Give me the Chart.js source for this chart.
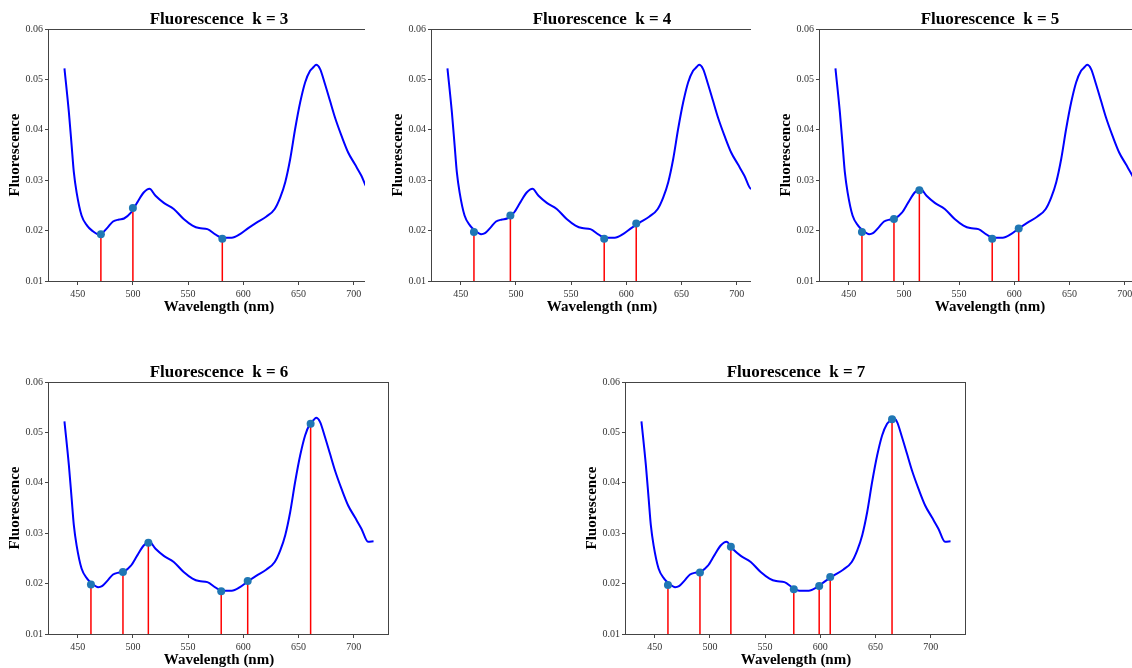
<!DOCTYPE html>
<html>
<head>
<meta charset="utf-8">
<script src="https://cdn.jsdelivr.net/npm/chart.js@4.4.1/dist/chart.umd.min.js"></script>
<style>
  html, body { margin: 0; padding: 0; background: #fff; overflow: hidden; }
  body { width: 1132px; height: 668px; position: relative; }
  .panel { position: absolute; overflow: hidden; }
  .panel canvas { display: block; }
</style>
</head>
<body>
<div class="panel" style="left:0px;top:0px;width:365px;height:321px"><canvas id="c0" width="397" height="321"></canvas></div>
<div class="panel" style="left:383px;top:0px;width:368px;height:321px"><canvas id="c1" width="397" height="321"></canvas></div>
<div class="panel" style="left:771px;top:0px;width:361px;height:321px"><canvas id="c2" width="397" height="321"></canvas></div>
<div class="panel" style="left:0px;top:353px;width:397px;height:315px"><canvas id="c3" width="397" height="321"></canvas></div>
<div class="panel" style="left:577px;top:353px;width:397px;height:315px"><canvas id="c4" width="397" height="321"></canvas></div>
<script>
(function() {
// spectrum (same in every panel)
const wavelength = [438, 442, 444.5, 446.5, 449, 453.5, 458.5, 463, 468.5, 472, 477, 482, 487.5, 492, 498,
    504, 510, 515, 520.5, 528, 537, 546, 554, 560, 567.5, 575, 581, 589.5, 597, 604.5, 612, 621, 628.5,
    633.5, 638, 642.5, 647, 651.5, 656, 660.5, 663.5, 666, 669.5, 674, 678.5, 683, 689, 695, 701, 707, 713, 718];
const fluorescence = [0.0522, 0.0435, 0.0369, 0.0316, 0.0276, 0.0230, 0.0210, 0.0200, 0.0193, 0.0195, 0.0206,
    0.0218, 0.0222, 0.0224, 0.0235, 0.0256, 0.0276, 0.0283, 0.0269, 0.0255, 0.0243, 0.0223, 0.0210, 0.0205,
    0.0203, 0.0192, 0.0186, 0.0186, 0.0193, 0.0205, 0.0216, 0.0228, 0.0243, 0.0266, 0.0296, 0.0342, 0.0402,
    0.0454, 0.0494, 0.0517, 0.0524, 0.0529, 0.0521, 0.0491, 0.0458, 0.0425, 0.0388, 0.0355, 0.0332, 0.0309,
    0.0283, 0.0284];

// selected wavelengths per k
const kValues = [3, 4, 5, 6, 7];
const stemX = [
    [471, 500, 581],
    [462, 495, 580, 609],
    [462, 491, 514, 580, 604],
    [462, 491, 514, 580, 604, 661],
    [462, 491, 519, 576, 599, 609, 665]
];
const stemY = [
    [0.0193, 0.0245, 0.0184],
    [0.0197, 0.0230, 0.0184, 0.0214],
    [0.0197, 0.0223, 0.0280, 0.0184, 0.0204],
    [0.0198, 0.0223, 0.0281, 0.0185, 0.0205, 0.0517],
    [0.0197, 0.0222, 0.0273, 0.0189, 0.0195, 0.0213, 0.0526]
];

const xTicks = [450, 500, 550, 600, 650, 700];
const yTicks = [0.01, 0.02, 0.03, 0.04, 0.05, 0.06];
const xMin = 424, xMax = 732;
const yMin = 0.01, yMax = 0.06;

const serif = "'Liberation Serif', 'Times New Roman', serif";

const frame = {
    id: 'frame',
    afterDraw(chart) {
        const ctx = chart.ctx, a = chart.chartArea;
        ctx.save();
        ctx.strokeStyle = '#444';
        ctx.lineWidth = 1;
        ctx.strokeRect(Math.round(a.left) - 0.5, Math.round(a.top) + 0.5,
            Math.round(a.right - a.left), Math.round(a.bottom - a.top));
        ctx.restore();
    }
};

function axisGrid() {
    return { drawOnChartArea: false, drawTicks: true, tickLength: 4, color: '#444', lineWidth: 1 };
}

function makeChart(i) {
    const curve = wavelength.map((w, j) => ({ x: w, y: fluorescence[j] }));
    const markers = stemX[i].map((w, j) => ({ x: w, y: stemY[i][j] }));
    const stems = [];
    stemX[i].forEach((w, j) => {
        stems.push({ x: w, y: yMin }, { x: w, y: stemY[i][j] }, { x: w, y: null });
    });

    return new Chart(document.getElementById('c' + i), {
        type: 'line',
        data: {
            datasets: [{
                data: markers,
                showLine: false,
                pointRadius: 4,
                pointHoverRadius: 4,
                pointBackgroundColor: '#1f77b4',
                pointBorderWidth: 0
            }, {
                data: stems,
                borderColor: '#ff0000',
                borderWidth: 1.5,
                pointRadius: 0,
                spanGaps: false,
                tension: 0
            }, {
                data: curve,
                borderColor: '#0000ff',
                borderWidth: 2,
                pointRadius: 0,
                cubicInterpolationMode: 'monotone'
            }]
        },
        options: {
            responsive: false,
            animation: false,
            events: [],
            layout: { padding: { left: 0, top: 0, right: 8, bottom: 0 } },
            plugins: {
                legend: { display: false },
                tooltip: { enabled: false },
                title: {
                    display: true,
                    fullSize: false,
                    text: 'Fluorescence  k = ' + kValues[i],
                    color: '#000',
                    font: { family: serif, size: 17, weight: 'bold', lineHeight: 1 },
                    padding: { top: 11, bottom: 1 }
                }
            },
            scales: {
                x: {
                    type: 'linear',
                    min: xMin,
                    max: xMax,
                    afterBuildTicks: s => { s.ticks = xTicks.map(v => ({ value: v })); },
                    afterFit: s => { s.height = 40; },
                    ticks: {
                        autoSkip: false, maxRotation: 0, padding: 3, color: '#333',
                        font: { family: serif, size: 10 },
                        callback: v => String(v)
                    },
                    grid: axisGrid(),
                    border: { display: false },
                    title: {
                        display: true, text: 'Wavelength (nm)', color: '#000',
                        font: { family: serif, size: 15, weight: 'bold' },
                        padding: { top: 0, bottom: 5 }
                    }
                },
                y: {
                    type: 'linear',
                    min: yMin,
                    max: yMax,
                    afterBuildTicks: s => { s.ticks = yTicks.map(v => ({ value: v })); },
                    afterFit: s => { s.width = 49; },
                    ticks: {
                        padding: 2, color: '#333',
                        font: { family: serif, size: 10 },
                        callback: v => v.toFixed(2)
                    },
                    grid: axisGrid(),
                    border: { display: false },
                    title: {
                        display: true, text: 'Fluorescence', color: '#000',
                        font: { family: serif, size: 15, weight: 'bold' },
                        padding: { top: 6, bottom: 0 }
                    }
                }
            }
        },
        plugins: [frame]
    });
}

kValues.forEach((k, i) => makeChart(i));
})();
</script>
</body>
</html>
